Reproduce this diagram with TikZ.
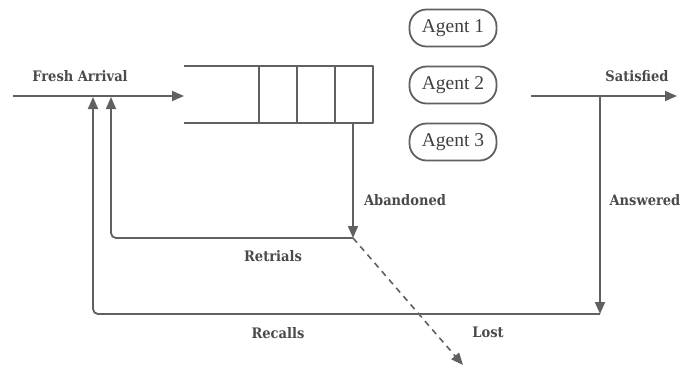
\documentclass[tikz,border=0pt]{standalone}
\usepackage{fontspec}
\setmainfont{Liberation Serif}
\newfontfamily\lblfont{DejaVu Serif Condensed}
\usetikzlibrary{arrows.meta}
\definecolor{ln}{HTML}{606060}
\definecolor{tx}{HTML}{404040}
\definecolor{lt}{HTML}{4a4a4a}
\begin{document}
\begin{tikzpicture}[x=1pt,y=-1pt,
  flow/.style={draw=ln,line width=1.8pt,-{Triangle[length=12pt,width=10pt]}},
  plain/.style={draw=ln,line width=1.8pt},
  lbl/.style={font=\lblfont\bfseries\fontsize{14.5}{16}\selectfont,text=lt,inner sep=0pt},
  agent/.style={draw=ln,line width=1.8pt,rounded corners=17pt,minimum width=87pt,minimum height=37pt,inner sep=0pt,font=\fontsize{19.5}{22}\selectfont,text=tx}]
\useasboundingbox (0,0) rectangle (683,369);
% queue
\coordinate (qtl) at (184,66);
\coordinate (qtr) at (373,66);
\coordinate (qbl) at (184,123);
\coordinate (qbr) at (373,123);
\draw[plain,line join=round] (qtl) -- (qtr) -- (qbr) -- (qbl);
\foreach \x in {259,297,335} \draw[plain] (\x,66) -- (\x,123);
% agents
\node[agent] (a1) at (453,28) {Agent 1};
\node[agent] (a2) at (453,85) {Agent 2};
\node[agent] (a3) at (453,142) {Agent 3};
% fresh arrival
\coordinate (fs) at (13,96);
\coordinate (fe) at (184,96);
\draw[flow] (fs) -- (fe);
\node[lbl] (fa) at (80,76) {Fresh Arrival};
% satisfied
\coordinate (ss) at (531,96);
\coordinate (se) at (677,96);
\draw[flow] (ss) -- (se);
\node[lbl] (sat) at (637,76) {Satisfied};
% abandoned
\coordinate (ab0) at (353,123);
\coordinate (ab1) at (353,238);
\draw[flow] (ab0) -- (ab1);
\node[lbl] (abl) at (405,200) {Abandoned};
% retrials
\coordinate (rt1) at (111,238);
\coordinate (rt2) at (111,97);
\draw[flow,rounded corners=5pt] (ab1) -- (rt1) -- (rt2);
\node[lbl] (rtl) at (273,256) {Retrials};
% answered
\coordinate (an0) at (600,96);
\coordinate (an1) at (600,314);
\draw[flow] (an0) -- (an1);
\node[lbl] (anl) at (645,200) {Answered};
% recalls
\coordinate (rc1) at (93,314);
\coordinate (rc2) at (93,97);
\draw[flow,rounded corners=5pt] (an1) -- (rc1) -- (rc2);
\node[lbl] (rcl) at (278,333) {Recalls};
% lost
\coordinate (lo) at (463,365);
\draw[flow,dashed,dash pattern=on 6pt off 5pt,line width=1.6pt] (ab1) -- (lo);
\node[lbl] (lol) at (488,332) {Lost};
\end{tikzpicture}
\end{document}
